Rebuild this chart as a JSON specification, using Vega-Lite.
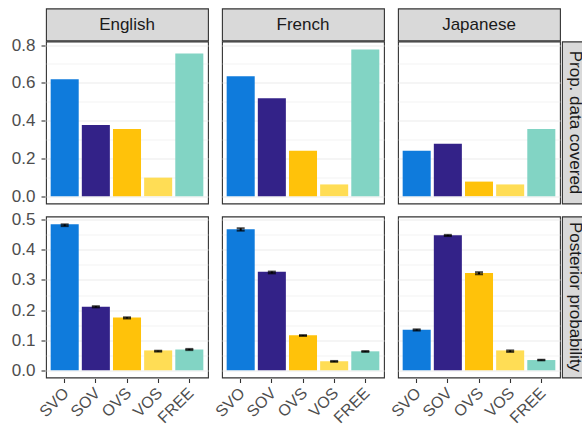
{
  "$schema": "https://vega.github.io/schema/vega-lite/v6.json",
  "background": "white",
  "padding": {"left": 11, "top": 7.5, "right": 0, "bottom": 0},
  "datasets": {
    "bars": [
      {"lang": "English", "metric": "Prop. data covered", "order": "SVO", "value": 0.619},
      {"lang": "English", "metric": "Prop. data covered", "order": "SOV", "value": 0.377},
      {"lang": "English", "metric": "Prop. data covered", "order": "OVS", "value": 0.356},
      {"lang": "English", "metric": "Prop. data covered", "order": "VOS", "value": 0.098},
      {"lang": "English", "metric": "Prop. data covered", "order": "FREE", "value": 0.756},
      {"lang": "French", "metric": "Prop. data covered", "order": "SVO", "value": 0.635},
      {"lang": "French", "metric": "Prop. data covered", "order": "SOV", "value": 0.519},
      {"lang": "French", "metric": "Prop. data covered", "order": "OVS", "value": 0.24},
      {"lang": "French", "metric": "Prop. data covered", "order": "VOS", "value": 0.062},
      {"lang": "French", "metric": "Prop. data covered", "order": "FREE", "value": 0.777},
      {"lang": "Japanese", "metric": "Prop. data covered", "order": "SVO", "value": 0.24},
      {"lang": "Japanese", "metric": "Prop. data covered", "order": "SOV", "value": 0.277},
      {"lang": "Japanese", "metric": "Prop. data covered", "order": "OVS", "value": 0.077},
      {"lang": "Japanese", "metric": "Prop. data covered", "order": "VOS", "value": 0.062},
      {"lang": "Japanese", "metric": "Prop. data covered", "order": "FREE", "value": 0.356},
      {"lang": "English", "metric": "Posterior probability", "order": "SVO", "value": 0.485, "lo": 0.479, "hi": 0.485},
      {"lang": "English", "metric": "Posterior probability", "order": "SOV", "value": 0.211, "lo": 0.209, "hi": 0.213},
      {"lang": "English", "metric": "Posterior probability", "order": "OVS", "value": 0.175, "lo": 0.172, "hi": 0.176},
      {"lang": "English", "metric": "Posterior probability", "order": "VOS", "value": 0.066, "lo": 0.062, "hi": 0.065},
      {"lang": "English", "metric": "Posterior probability", "order": "FREE", "value": 0.069, "lo": 0.067, "hi": 0.071},
      {"lang": "French", "metric": "Posterior probability", "order": "SVO", "value": 0.469, "lo": 0.464, "hi": 0.472},
      {"lang": "French", "metric": "Posterior probability", "order": "SOV", "value": 0.327, "lo": 0.322, "hi": 0.328},
      {"lang": "French", "metric": "Posterior probability", "order": "OVS", "value": 0.116, "lo": 0.114, "hi": 0.117},
      {"lang": "French", "metric": "Posterior probability", "order": "VOS", "value": 0.03, "lo": 0.028, "hi": 0.031},
      {"lang": "French", "metric": "Posterior probability", "order": "FREE", "value": 0.063, "lo": 0.061, "hi": 0.064},
      {"lang": "Japanese", "metric": "Posterior probability", "order": "SVO", "value": 0.135, "lo": 0.132, "hi": 0.136},
      {"lang": "Japanese", "metric": "Posterior probability", "order": "SOV", "value": 0.449, "lo": 0.446, "hi": 0.45},
      {"lang": "Japanese", "metric": "Posterior probability", "order": "OVS", "value": 0.323, "lo": 0.319, "hi": 0.326},
      {"lang": "Japanese", "metric": "Posterior probability", "order": "VOS", "value": 0.066, "lo": 0.061, "hi": 0.066},
      {"lang": "Japanese", "metric": "Posterior probability", "order": "FREE", "value": 0.034, "lo": 0.033, "hi": 0.035}
    ]
  },
  "config": {
    "font": "Liberation Sans",
    "view": {"stroke": "#333333", "strokeWidth": 1.1, "fill": "white"},
    "axis": {
      "labelFont": "Liberation Sans",
      "labelFontSize": 17,
      "labelColor": "#4D4D4D",
      "tickColor": "#333333",
      "tickSize": 4,
      "tickWidth": 1.1,
      "domain": false,
      "gridColor": "#EBEBEB",
      "labelOverlap": false,
      "labelFlush": false
    },
    "bar": {"stroke": null}
  },
  "spacing": 6,
  "vconcat": [
    {
      "spacing": -9,
      "vconcat": [
        {
          "spacing": 12,
          "hconcat": [
            {"width": 162, "height": 32, "view": {"fill": "#D9D9D9", "stroke": "#333333", "strokeWidth": 1.1},
             "data": {"values": [{"lang": "English"}]},
             "mark": {"type": "text", "fontSize": 17, "color": "#1A1A1A", "font": "Liberation Sans"},
             "encoding": {
               "text": {"field": "lang"},
               "y": {"datum": 0.5, "type": "quantitative", "scale": {"domain": [0, 1]},
                     "axis": {"title": null, "values": [0.5], "format": ".1f", "labelPadding": 6, "labelOpacity": 0, "tickOpacity": 0, "grid": false}}
             }},
            {"width": 162, "height": 32, "view": {"fill": "#D9D9D9", "stroke": "#333333", "strokeWidth": 1.1},
             "data": {"values": [{"lang": "French"}]},
             "mark": {"type": "text", "fontSize": 17, "color": "#1A1A1A", "font": "Liberation Sans"},
             "encoding": {"text": {"field": "lang"}}},
            {"width": 162, "height": 32, "view": {"fill": "#D9D9D9", "stroke": "#333333", "strokeWidth": 1.1},
             "data": {"values": [{"lang": "Japanese"}]},
             "mark": {"type": "text", "fontSize": 17, "color": "#1A1A1A", "font": "Liberation Sans"},
             "encoding": {"text": {"field": "lang"}}}
          ]
        },
        {
          "spacing": 0,
          "hconcat": [
            {
              "data": {"name": "bars"},
              "transform": [{"filter": "datum.metric == 'Prop. data covered'"}],
              "facet": {"column": {"field": "lang", "type": "nominal", "header": null}},
              "spacing": 12,
              "spec": {
                "width": 162, "height": 162,
                "mark": {"type": "bar"},
                "encoding": {
                  "x": {"field": "order", "type": "nominal", "sort": ["SVO", "SOV", "OVS", "VOS", "FREE"], "scale": {"paddingInner": 0.1, "paddingOuter": 0.15}, "axis": null},
                  "y": {"field": "value", "type": "quantitative", "scale": {"domain": [-0.039, 0.819], "nice": false, "zero": false},
                        "axis": {"title": null, "values": [0, 0.1, 0.2, 0.3, 0.4, 0.5, 0.6, 0.7, 0.8], "format": ".1f", "labelPadding": 6,
                                 "labelExpr": "round(datum.value*10) % 2 == 0 ? datum.label : ''",
                                 "tickOpacity": {"condition": {"test": "round(datum.value*10) % 2 == 0", "value": 1}, "value": 0},
                                 "gridWidth": {"condition": {"test": "round(datum.value*10) % 2 == 0", "value": 1.2}, "value": 0.6}}},
                  "y2": {"datum": 0},
                  "color": {"field": "order", "type": "nominal", "scale": {"domain": ["SVO", "SOV", "OVS", "VOS", "FREE"], "range": ["#0F7BDC", "#332288", "#FFC20A", "#FFDD55", "#82D4C4"]}, "legend": null}
                }
              }
            },
            {"width": 26, "height": 162, "view": {"fill": "#D9D9D9", "stroke": "#333333", "strokeWidth": 1.1},
             "data": {"values": [{"metric": "Prop. data covered"}]},
             "mark": {"type": "text", "fontSize": 17, "color": "#1A1A1A", "font": "Liberation Sans", "angle": 90},
             "encoding": {"text": {"field": "metric"}}}
          ]
        }
      ]
    },
    {
      "spacing": 0,
      "hconcat": [
        {
          "data": {"name": "bars"},
          "transform": [{"filter": "datum.metric == 'Posterior probability'"}],
          "facet": {"column": {"field": "lang", "type": "nominal", "header": null}},
          "spacing": 12,
          "spec": {
            "width": 162, "height": 161,
            "encoding": {
              "x": {"field": "order", "type": "nominal", "sort": ["SVO", "SOV", "OVS", "VOS", "FREE"], "scale": {"paddingInner": 0.1, "paddingOuter": 0.15},
                    "axis": {"title": null, "labelAngle": -45, "labelPadding": 2, "labelFontSize": 16, "labelOffset": -4}}
            },
            "layer": [
              {
                "mark": {"type": "bar"},
                "encoding": {
                  "y": {"field": "value", "type": "quantitative", "scale": {"domain": [-0.024, 0.511], "nice": false, "zero": false},
                        "axis": {"title": null, "values": [0, 0.05, 0.1, 0.15, 0.2, 0.25, 0.3, 0.35, 0.4, 0.45, 0.5], "format": ".1f", "labelPadding": 6,
                                 "labelExpr": "round(datum.value*20) % 2 == 0 ? datum.label : ''",
                                 "tickOpacity": {"condition": {"test": "round(datum.value*20) % 2 == 0", "value": 1}, "value": 0},
                                 "gridWidth": {"condition": {"test": "round(datum.value*20) % 2 == 0", "value": 1.2}, "value": 0.6}}},
                  "y2": {"datum": 0},
                  "color": {"field": "order", "type": "nominal", "scale": {"domain": ["SVO", "SOV", "OVS", "VOS", "FREE"], "range": ["#0F7BDC", "#332288", "#FFC20A", "#FFDD55", "#82D4C4"]}, "legend": null}
                }
              },
              {
                "mark": {"type": "errorbar", "ticks": true, "size": 8, "thickness": 2, "color": "black"},
                "encoding": {
                  "y": {"field": "lo", "type": "quantitative",
                        "axis": {"title": null, "values": [0, 0.05, 0.1, 0.15, 0.2, 0.25, 0.3, 0.35, 0.4, 0.45, 0.5], "format": ".1f", "labelPadding": 6,
                                 "labelExpr": "round(datum.value*20) % 2 == 0 ? datum.label : ''",
                                 "tickOpacity": {"condition": {"test": "round(datum.value*20) % 2 == 0", "value": 1}, "value": 0},
                                 "gridWidth": {"condition": {"test": "round(datum.value*20) % 2 == 0", "value": 1.2}, "value": 0.6}}},
                  "y2": {"field": "hi"}
                }
              }
            ]
          }
        },
        {"width": 26, "height": 161, "view": {"fill": "#D9D9D9", "stroke": "#333333", "strokeWidth": 1.1},
         "data": {"values": [{"metric": "Posterior probability"}]},
         "mark": {"type": "text", "fontSize": 17, "color": "#1A1A1A", "font": "Liberation Sans", "angle": 90},
         "encoding": {"text": {"field": "metric"}}}
      ]
    }
  ]
}
